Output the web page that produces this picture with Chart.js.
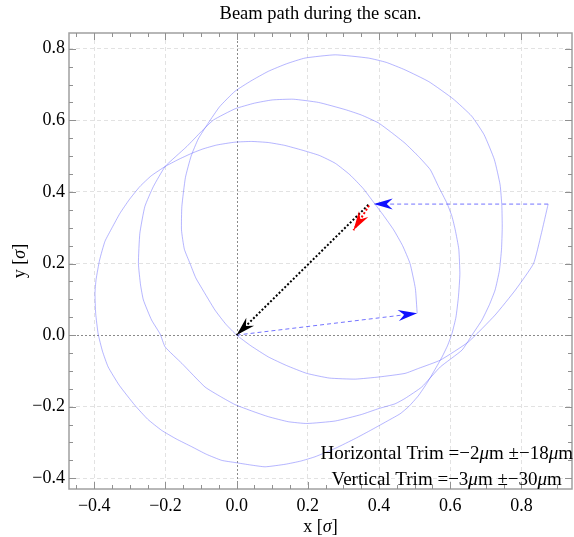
<!DOCTYPE html>
<html>
<head>
<meta charset="utf-8">
<script src="https://cdn.jsdelivr.net/npm/chart.js@4.4.0/dist/chart.umd.min.js"></script>
<style>
  html, body { margin: 0; padding: 0; background: #fff; }
  #wrap { width: 574px; height: 537px; }
</style>
</head>
<body>
<div id="wrap"><canvas id="beamChart"></canvas></div>
<script>
// beam position along the scan, in units of sigma
const pathX = [
  0.507, 0.502, 0.487, 0.466, 0.441, 0.412, 0.384, 0.355, 0.318, 0.277, 0.232, 0.183, 0.135, 0.089, 0.042, -0.005,
  -0.056, -0.095, -0.126, -0.165, -0.201, -0.240, -0.272, -0.302, -0.328, -0.350, -0.370, -0.385, -0.395, -0.398,
  -0.396, -0.389, -0.377, -0.361, -0.330, -0.286, -0.250, -0.211, -0.170, -0.126, -0.085, -0.042, -0.005, 0.040,
  0.080, 0.136, 0.180, 0.220, 0.278, 0.333, 0.380, 0.427, 0.459, 0.483, 0.510, 0.534, 0.556, 0.577, 0.593, 0.605,
  0.616, 0.623, 0.627, 0.624, 0.614, 0.605, 0.591, 0.567, 0.544, 0.511, 0.473, 0.435, 0.398, 0.350, 0.305, 0.230,
  0.159, 0.100, 0.050, -0.005, -0.065, -0.100, -0.140, -0.170, -0.201, -0.234, -0.258, -0.272, -0.276, -0.270,
  -0.262, -0.239, -0.215, -0.201, -0.154, -0.089, -0.045, -0.005, 0.045, 0.089, 0.145, 0.197, 0.277, 0.350, 0.400,
  0.445, 0.473, 0.520, 0.572, 0.633, 0.661, 0.689, 0.710, 0.726, 0.738, 0.744, 0.746, 0.745, 0.740, 0.724, 0.695,
  0.660, 0.608, 0.540, 0.473, 0.420, 0.370, 0.277, 0.192, 0.140, 0.089, 0.040, -0.005, -0.048, -0.080, -0.108,
  -0.128, -0.144, -0.154, -0.155, -0.147, -0.131, -0.115, -0.098, -0.061, -0.030, 0.000, 0.040, 0.089, 0.140,
  0.197, 0.260, 0.333, 0.400, 0.473, 0.511, 0.572, 0.651, 0.726, 0.783, 0.834, 0.855, 0.875
];
const pathY = [
  0.061, 0.130, 0.200, 0.250, 0.294, 0.335, 0.372, 0.410, 0.448, 0.480, 0.502, 0.517, 0.530, 0.538, 0.541, 0.539,
  0.531, 0.520, 0.508, 0.490, 0.471, 0.445, 0.415, 0.378, 0.340, 0.300, 0.262, 0.210, 0.155, 0.117,
  0.060, 0.003, -0.045, -0.089, -0.140, -0.196, -0.235, -0.266, -0.290, -0.312, -0.333, -0.350, -0.356, -0.363,
  -0.368, -0.361, -0.352, -0.340, -0.316, -0.289, -0.264, -0.238, -0.220, -0.200, -0.170, -0.135, -0.098, -0.061, -0.028, 0.005,
  0.050, 0.107, 0.170, 0.240, 0.294, 0.331, 0.368, 0.415, 0.462, 0.499, 0.536, 0.566, 0.593, 0.615, 0.630, 0.650,
  0.659, 0.657, 0.648, 0.632, 0.601, 0.568, 0.527, 0.500, 0.471, 0.415, 0.359, 0.284, 0.200, 0.140,
  0.098, 0.042, 0.003, -0.033, -0.079, -0.145, -0.172, -0.194, -0.213, -0.228, -0.242, -0.247, -0.240, -0.222, -0.205,
  -0.192, -0.177, -0.145, -0.089, -0.042, 0.000, 0.042, 0.085, 0.126, 0.180, 0.240, 0.300, 0.360, 0.420, 0.490, 0.560,
  0.612, 0.660, 0.708, 0.741, 0.762, 0.774, 0.783, 0.774, 0.758, 0.737, 0.710, 0.681, 0.638, 0.592, 0.548,
  0.500, 0.440, 0.359, 0.294, 0.240, 0.200, 0.160, 0.131, 0.070, 0.030, 0.000, -0.030, -0.061, -0.085,
  -0.107, -0.120, -0.123, -0.117, -0.107, -0.093, -0.070, -0.019, 0.056, 0.126, 0.200, 0.280, 0.366
];

// arrows: [x, y] of start and tip
const returnArrow = [[0.875, 0.366], [0.385, 0.366]];
const startArrow = [[0.0, 0.0], [0.507, 0.061]];
const trimArrow = [[0.370, 0.364], [0.0, 0.0]];
const stepArrow = [[0.372, 0.362], [0.328, 0.293]];

const majorTicks = [-0.4, -0.2, 0.0, 0.2, 0.4, 0.6, 0.8];
const minorStep = 0.05;
const xRange = [-0.471, 0.942];
const yRange = [-0.43, 0.844];

const titleText = 'Beam path during the scan.';
const trimLines = [
  { x: 0.590, y: -0.347, parts: [['Horizontal Trim =\u22122', false], ['\u03bc', true], ['m \u00b1\u221218', false], ['\u03bc', true], ['m', false]] },
  { x: 0.590, y: -0.420, parts: [['Vertical Trim =\u22123', false], ['\u03bc', true], ['m \u00b1\u221230', false], ['\u03bc', true], ['m', false]] }
];

const FONT = '"Liberation Serif", "DejaVu Serif", serif';

const toPts = (xs, ys) => xs.map((x, i) => ({ x: x, y: ys[i] }));
const seg = a => a.map(p => ({ x: p[0], y: p[1] }));

function drawRich(ctx, parts, x, y, size) {
  let widths = parts.map(([t, it]) => {
    ctx.font = (it ? 'italic ' : '') + size + 'px ' + FONT;
    return ctx.measureText(t).width;
  });
  let total = widths.reduce((a, b) => a + b, 0);
  let cx = x - total / 2;
  parts.forEach(([t, it], i) => {
    ctx.font = (it ? 'italic ' : '') + size + 'px ' + FONT;
    ctx.fillText(t, cx, y);
    cx += widths[i];
  });
}

function arrowHead(ctx, x0, y0, x1, y1, color) {
  const dx = x1 - x0, dy = y1 - y0;
  const len = Math.hypot(dx, dy) || 1;
  const ux = dx / len, uy = dy / len;
  const nx = -uy, ny = ux;
  const L = 19, W = 5.5, N = 13;
  ctx.fillStyle = color;
  ctx.beginPath();
  ctx.moveTo(x1, y1);
  ctx.lineTo(x1 - ux * L + nx * W, y1 - uy * L + ny * W);
  ctx.lineTo(x1 - ux * N, y1 - uy * N);
  ctx.lineTo(x1 - ux * L - nx * W, y1 - uy * L - ny * W);
  ctx.closePath();
  ctx.fill();
}

const framePlugin = {
  id: 'frame',
  beforeDatasetsDraw(chart) {
    const { ctx, chartArea: a, scales: { x, y } } = chart;
    ctx.save();
    ctx.strokeStyle = '#8a8a8a';
    ctx.lineWidth = 1;
    ctx.setLineDash([2, 2]);
    const x0 = Math.round(x.getPixelForValue(0)) + 0.5;
    const y0 = Math.round(y.getPixelForValue(0)) + 0.5;
    ctx.beginPath();
    ctx.moveTo(x0, a.top); ctx.lineTo(x0, a.bottom);
    ctx.moveTo(a.left, y0); ctx.lineTo(a.right, y0);
    ctx.stroke();
    ctx.restore();
  },
  afterDatasetsDraw(chart) {
    const { ctx, chartArea: a, scales: { x, y } } = chart;
    ctx.save();
    // arrow heads
    const heads = [[returnArrow, '#1010ff'], [startArrow, '#1010ff'], [trimArrow, '#000000'], [stepArrow, '#ff0000']];
    heads.forEach(([ar, col]) => {
      arrowHead(ctx, x.getPixelForValue(ar[0][0]), y.getPixelForValue(ar[0][1]),
        x.getPixelForValue(ar[1][0]), y.getPixelForValue(ar[1][1]), col);
    });

    // frame
    ctx.strokeStyle = '#a0a0a0';
    ctx.lineWidth = 1.5;
    ctx.strokeRect(a.left, a.top, a.right - a.left, a.bottom - a.top);

    // inward ticks on all four sides
    ctx.strokeStyle = '#909090';
    ctx.lineWidth = 1;
    ctx.beginPath();
    const isMajor = v => majorTicks.some(m => Math.abs(m - v) < 1e-6);
    for (let v = Math.ceil(xRange[0] / minorStep) * minorStep; v <= xRange[1] + 1e-9; v += minorStep) {
      const px = Math.round(x.getPixelForValue(v)) + 0.5;
      const t = isMajor(v) ? 7 : 4;
      ctx.moveTo(px, a.bottom); ctx.lineTo(px, a.bottom - t);
      ctx.moveTo(px, a.top); ctx.lineTo(px, a.top + t);
    }
    for (let v = Math.ceil(yRange[0] / minorStep) * minorStep; v <= yRange[1] + 1e-9; v += minorStep) {
      const py = Math.round(y.getPixelForValue(v)) + 0.5;
      const t = isMajor(v) ? 7 : 4;
      ctx.moveTo(a.left, py); ctx.lineTo(a.left + t, py);
      ctx.moveTo(a.right, py); ctx.lineTo(a.right - t, py);
    }
    ctx.stroke();

    // trim annotations
    ctx.fillStyle = '#000';
    ctx.textBaseline = 'alphabetic';
    ctx.textAlign = 'left';
    trimLines.forEach(l => drawRich(ctx, l.parts, x.getPixelForValue(l.x), y.getPixelForValue(l.y), 19));

    // title and axis titles, centred on the plot frame
    ctx.textBaseline = 'middle';
    drawRich(ctx, [[titleText, false]], (a.left + a.right) / 2, 14.5, 18.5);
    drawRich(ctx, [['x [', false], ['\u03c3', true], [']', false]], (a.left + a.right) / 2, 527, 18);
    ctx.translate(20, (a.top + a.bottom) / 2);
    ctx.rotate(-Math.PI / 2);
    drawRich(ctx, [['y [', false], ['\u03c3', true], [']', false]], 0, 0, 18);
    ctx.restore();
  }
};

const fmt = v => (v < 0 ? '\u2212' : '') + Math.abs(v).toFixed(1);

const axisCommon = {
  type: 'linear',
  afterBuildTicks: s => { s.ticks = majorTicks.map(v => ({ value: v })); },
  grid: {
    drawTicks: false,
    lineWidth: 1,
    color: c => (c.tick && Math.abs(c.tick.value) < 1e-9) ? 'rgba(0,0,0,0)' : '#e2e2e2'
  },
  border: { display: false, dash: [4, 3] },
  ticks: {
    color: '#000',
    font: { family: FONT, size: 18 },
    autoSkip: false,
    maxRotation: 0,
    callback: v => fmt(v)
  }
};

new Chart(document.getElementById('beamChart'), {
  type: 'scatter',
  data: {
    datasets: [
      {
        label: 'beam path',
        data: toPts(pathX, pathY),
        showLine: true,
        borderColor: 'rgba(110,110,255,0.5)',
        borderWidth: 1,
        pointRadius: 0,
        tension: 0.15,
        order: 10
      },
      {
        label: 'return',
        data: seg(returnArrow),
        showLine: true,
        borderColor: 'rgb(115,115,255)',
        borderWidth: 1,
        borderDash: [4, 3],
        pointRadius: 0,
        order: 5
      },
      {
        label: 'start',
        data: seg(startArrow),
        showLine: true,
        borderColor: 'rgb(115,115,255)',
        borderWidth: 1,
        borderDash: [4, 3],
        pointRadius: 0,
        order: 5
      },
      {
        label: 'trim',
        data: seg(trimArrow),
        showLine: true,
        borderColor: '#000',
        borderWidth: 2,
        borderDash: [2, 2],
        pointRadius: 0,
        order: 2
      },
      {
        label: 'step',
        data: seg(stepArrow),
        showLine: true,
        borderColor: '#ff0000',
        borderWidth: 2,
        borderDash: [2, 2],
        pointRadius: 0,
        order: 1
      }
    ]
  },
  options: {
    responsive: true,
    maintainAspectRatio: false,
    animation: false,
    devicePixelRatio: 1,
    layout: { padding: { left: 0, right: 2, top: 33, bottom: 0 } },
    plugins: {
      legend: { display: false },
      tooltip: { enabled: false },
      title: { display: false }
    },
    scales: {
      x: Object.assign({}, axisCommon, {
        min: xRange[0], max: xRange[1],
        afterFit: s => { s.height = 48; },
        ticks: Object.assign({}, axisCommon.ticks, { padding: 6 })
      }),
      y: Object.assign({}, axisCommon, {
        min: yRange[0], max: yRange[1],
        afterFit: s => { s.width = 69; },
        ticks: Object.assign({}, axisCommon.ticks, { padding: 4 })
      })
    }
  },
  plugins: [framePlugin]
});
</script>
</body>
</html>
